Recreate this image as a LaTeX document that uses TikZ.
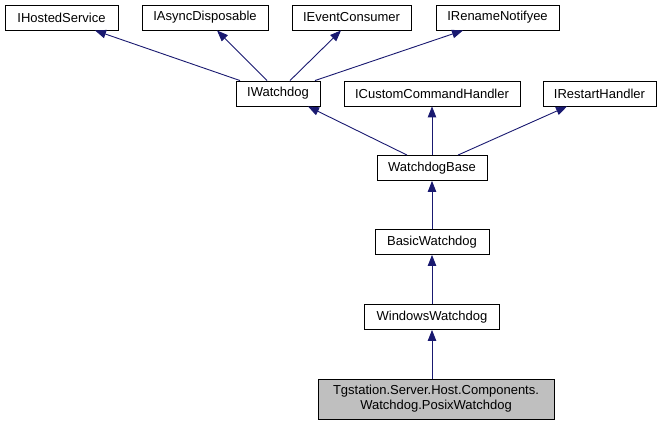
\documentclass[tikz,border=0pt]{standalone}
\usepackage{fontspec}
\setmainfont{Liberation Sans}
\usetikzlibrary{arrows.meta}
\definecolor{edgeblue}{HTML}{191970}
\definecolor{curfill}{HTML}{BFBFBF}
\tikzset{
  cls/.style={draw=black, line width=0.9pt, fill=white, inner sep=0pt, minimum height=25pt,
    font=\fontsize{13}{15}\selectfont, align=center},
  inh/.style={draw=edgeblue, line width=0.9pt, -{Triangle[length=11pt,width=8.5pt]}, shorten >=0pt}
}
\begin{document}
\begin{tikzpicture}[x=1pt,y=-1pt]
\useasboundingbox (0,0) rectangle (662,425);
% top row
\node[cls, minimum width=113pt] (ihs) at (61.5,17.5) {IHostedService};
\node[cls, minimum width=126pt] (iad) at (205,17.5) {IAsyncDisposable};
\node[cls, minimum width=119pt] (iec) at (351.5,17.5) {IEventConsumer};
\node[cls, minimum width=123pt] (irn) at (497.5,17.5) {IRenameNotifyee};
% second row
\node[cls, minimum width=84pt] (iw) at (278,93.5) {IWatchdog};
\node[cls, minimum width=176pt] (icch) at (432,93.5) {ICustomCommandHandler};
\node[cls, minimum width=113pt] (irh) at (599.5,93.5) {IRestartHandler};
% chain
\node[cls, minimum width=110pt] (wb) at (432,168) {WatchdogBase};
\node[cls, minimum width=114pt] (bw) at (432,242) {BasicWatchdog};
\node[cls, minimum width=135pt] (ww) at (432,317) {WindowsWatchdog};
\node[cls, fill=curfill, minimum width=236pt, minimum height=40pt] (pw) at (436,399)
  {Tgstation.Server.Host.Components.\\Watchdog.PosixWatchdog};
% edges
\draw[inh] ([xshift=-38pt]iw.north) -- ([xshift=33.5pt]ihs.south);
\draw[inh] ([xshift=-11pt]iw.north) -- ([xshift=12pt]iad.south);
\draw[inh] ([xshift=12pt]iw.north) -- ([xshift=-10.5pt]iec.south);
\draw[inh] ([xshift=37pt]iw.north) -- ([xshift=-34.5pt]irn.south);
\draw[inh] ([xshift=-25pt]wb.north) -- ([xshift=30pt]iw.south);
\draw[inh] (wb.north) -- (icch.south);
\draw[inh] ([xshift=26pt]wb.north) -- ([xshift=-32.5pt]irh.south);
\draw[inh] (bw.north) -- (wb.south);
\draw[inh] (ww.north) -- (bw.south);
\draw[inh] (pw.north -| ww.north) -- (ww.south);
\end{tikzpicture}
\end{document}
